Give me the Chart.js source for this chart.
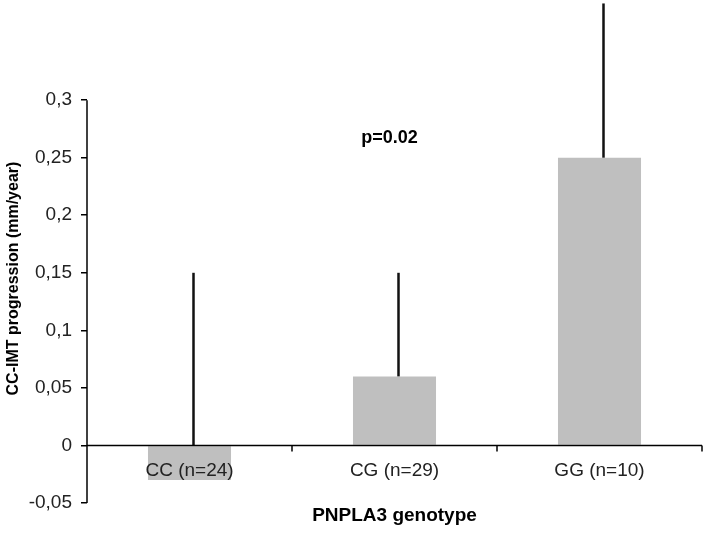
<!DOCTYPE html>
<html lang="en">
<head>
<meta charset="UTF-8">
<title>CC-IMT progression by PNPLA3 genotype</title>
<script src="https://cdn.jsdelivr.net/npm/chart.js@4/dist/chart.umd.min.js"></script>
<style>
  html, body { margin: 0; padding: 0; background: #fff; }
  #wrap { width: 726px; height: 533px; position: relative; }
</style>
</head>
<body>
<div id="wrap"><canvas id="myChart"></canvas></div>
<script>
// data
var genotypes = ["CC (n=24)", "CG (n=29)", "GG (n=10)"];
var meanProgression = [-0.03, 0.06, 0.25];
var errorTop = [0.15, 0.15, 0.384];   // upper end of the error line
var yTickValues = [-0.05, 0, 0.05, 0.1, 0.15, 0.2, 0.25, 0.3];
var pValueText = "p=0.02";
var yTitle = "CC-IMT progression (mm/year)";

var fontFamily = "Arial, 'Liberation Sans', sans-serif";

// axis lines, zero line, category labels, error lines and the p value
var extras = {
  id: "extras",
  afterDatasetsDraw: function(chart) {
    var ctx = chart.ctx;
    var x = chart.scales.x, y = chart.scales.y;
    var area = chart.chartArea;
    var zero = y.getPixelForValue(0);
    ctx.save();

    // error lines
    ctx.strokeStyle = "#111";
    ctx.lineWidth = 2.5;
    var meta = chart.getDatasetMeta(0);
    meta.data.forEach(function(bar, i) {
      var from = y.getPixelForValue(Math.max(meanProgression[i], 0));
      var to = y.getPixelForValue(errorTop[i]);
      ctx.beginPath();
      ctx.moveTo(bar.x + 4, from);
      ctx.lineTo(bar.x + 4, to);
      ctx.stroke();
    });

    // y axis line, only over the labelled range
    ctx.strokeStyle = "#000";
    ctx.lineWidth = 1.5;
    ctx.beginPath();
    ctx.moveTo(area.left, y.getPixelForValue(0.3));
    ctx.lineTo(area.left, y.getPixelForValue(-0.05));
    ctx.stroke();

    // zero line with tick marks between categories
    ctx.beginPath();
    ctx.moveTo(area.left, zero);
    ctx.lineTo(area.right, zero);
    var step = (area.right - area.left) / genotypes.length;
    for (var i = 1; i <= genotypes.length; i++) {
      var tx = area.left + step * i;
      ctx.moveTo(tx, zero);
      ctx.lineTo(tx, zero + 6);
    }
    ctx.stroke();

    // category labels sit just under the zero line
    ctx.fillStyle = "#222";
    ctx.font = "19px " + fontFamily;
    ctx.textAlign = "center";
    ctx.textBaseline = "middle";
    genotypes.forEach(function(g, i) {
      ctx.fillText(g, x.getPixelForValue(i), zero + 25);
    });

    // p value
    ctx.fillStyle = "#000";
    ctx.font = "bold 18px " + fontFamily;
    ctx.fillText(pValueText, x.getPixelForValue(1) - 5, y.getPixelForValue(0.267));

    // y title
    ctx.font = "bold 16px " + fontFamily;
    ctx.translate(14, y.getPixelForValue(0.145));
    ctx.rotate(-Math.PI / 2);
    ctx.fillText(yTitle, 0, 0);
    ctx.restore();
  }
};

new Chart(document.getElementById("myChart"), {
  type: "bar",
  data: {
    labels: genotypes,
    datasets: [{
      data: meanProgression,
      backgroundColor: "#bfbfbf",
      borderWidth: 0,
      barPercentage: 0.405,
      categoryPercentage: 1
    }]
  },
  options: {
    responsive: true,
    maintainAspectRatio: false,
    animation: false,
    layout: { padding: { top: 0, right: 24, bottom: 0, left: 0 } },
    plugins: {
      legend: { display: false },
      tooltip: { enabled: false }
    },
    scales: {
      x: {
        grid: { display: false, drawTicks: false },
        border: { display: false },
        ticks: { display: false },
        title: {
          display: true,
          text: "PNPLA3 genotype",
          color: "#000",
          font: { family: fontFamily, size: 19, weight: "bold" },
          padding: { top: 0, bottom: 6 }
        },
        afterFit: function(scale) {
          scale.height = 30;
          scale.paddingLeft = 0;
          scale.paddingRight = 0;
        }
      },
      y: {
        min: -0.05,
        max: 0.387,
        border: { display: false },
        grid: {
          drawOnChartArea: false,
          drawTicks: true,
          tickLength: 6,
          color: "#000",
          lineWidth: 1.5
        },
        afterBuildTicks: function(scale) {
          scale.ticks = yTickValues.map(function(v) { return { value: v }; });
        },
        ticks: {
          padding: 9,
          color: "#222",
          font: { family: fontFamily, size: 19 },
          callback: function(v) {
            return String(Number(v.toFixed(2))).replace(".", ",");
          }
        },
        afterFit: function(scale) {
          scale.width = 87;
          scale.paddingTop = 0;
          scale.paddingBottom = 0;
        }
      }
    }
  },
  plugins: [extras]
});
</script>
</body>
</html>
